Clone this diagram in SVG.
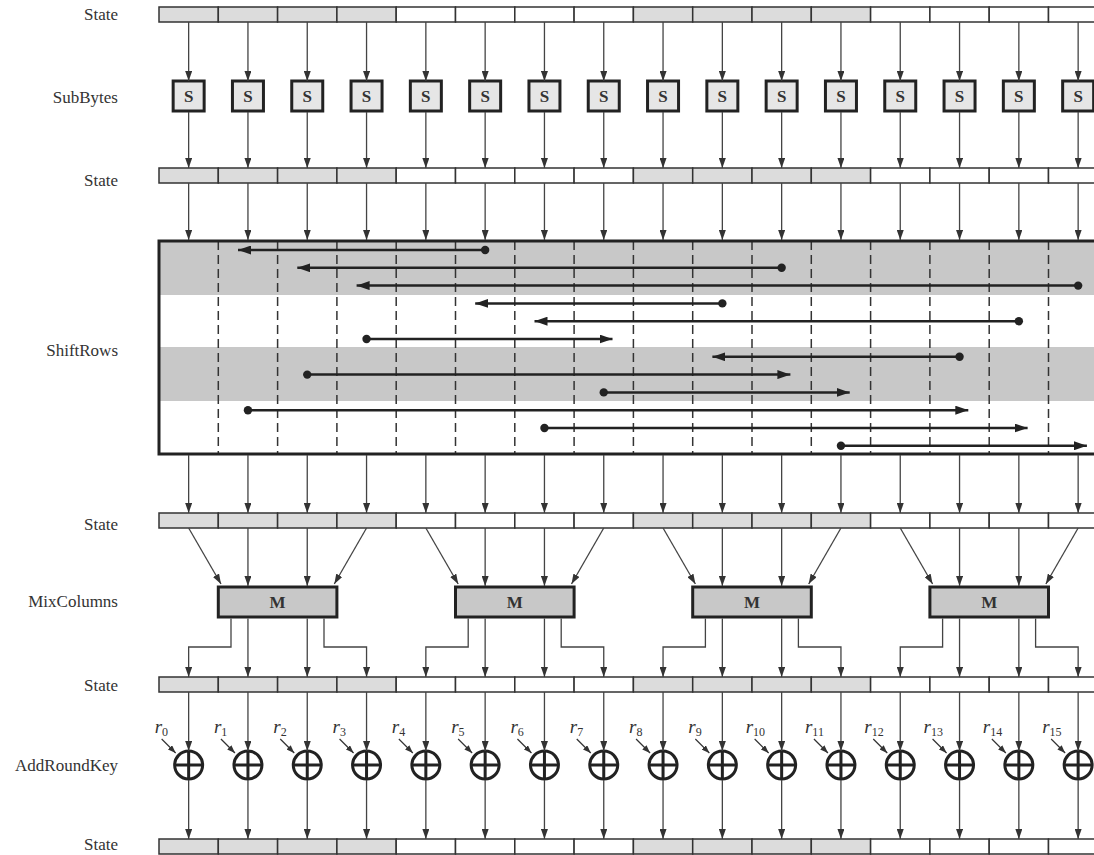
<svg xmlns="http://www.w3.org/2000/svg" xmlns:xlink="http://www.w3.org/1999/xlink" width="1094" height="855" viewBox="0 0 1094 855">
<style>
.lbl{font-family:"Liberation Serif",serif;font-size:17px;fill:#333;text-anchor:end}
.cellg{fill:#dcdcdc;stroke:#333;stroke-width:1.5}
.cellw{fill:#fff;stroke:#333;stroke-width:1.5}
.sbox{fill:#e6e6e6;stroke:#222;stroke-width:3}
.stxt{font-family:"Liberation Serif",serif;font-size:17px;font-weight:bold;fill:#333;text-anchor:middle}
.mbox{fill:#c8c8c8;stroke:#222;stroke-width:3}
.ar{stroke:#444;stroke-width:1.3;fill:none;marker-end:url(#ah)}
.el{stroke:#444;stroke-width:1.3;fill:none}
.sr{stroke:#222;stroke-width:2.5;fill:none;marker-end:url(#ahb)}
.dot{fill:#222}
.dash{stroke:#333;stroke-width:1.5;stroke-dasharray:9,5;fill:none}
.xor{fill:#fff;stroke:#222;stroke-width:3}
.pl{stroke:#222;stroke-width:3;fill:none}
.rt{font-family:"Liberation Serif",serif;font-style:italic;font-size:19px;fill:#333}
.rs{font-family:"Liberation Serif",serif;font-style:normal;font-size:12px;fill:#333}
.ra{stroke:#333;stroke-width:1.2;fill:none;marker-end:url(#ahs)}
</style>
<defs>
<marker id="ah" markerWidth="10" markerHeight="7" refX="10" refY="3.5" orient="auto" markerUnits="userSpaceOnUse"><path d="M0,0 L10,3.5 L0,7 z" fill="#333"/></marker>
<marker id="ahb" markerWidth="13" markerHeight="9" refX="13" refY="4.5" orient="auto" markerUnits="userSpaceOnUse"><path d="M0,0 L13,4.5 L0,9 z" fill="#222"/></marker>
<marker id="ahs" markerWidth="8" markerHeight="6" refX="8" refY="3" orient="auto" markerUnits="userSpaceOnUse"><path d="M0,0 L8,3 L0,6 z" fill="#333"/></marker>
<g id="bar">
<rect class="cellg" x="159" y="0" width="59.3" height="15"/><rect class="cellg" x="218.3" y="0" width="59.3" height="15"/><rect class="cellg" x="277.6" y="0" width="59.3" height="15"/><rect class="cellg" x="336.9" y="0" width="59.3" height="15"/>
<rect class="cellw" x="396.2" y="0" width="59.3" height="15"/><rect class="cellw" x="455.5" y="0" width="59.3" height="15"/><rect class="cellw" x="514.8" y="0" width="59.3" height="15"/><rect class="cellw" x="574.1" y="0" width="59.3" height="15"/>
<rect class="cellg" x="633.4" y="0" width="59.3" height="15"/><rect class="cellg" x="692.7" y="0" width="59.3" height="15"/><rect class="cellg" x="752" y="0" width="59.3" height="15"/><rect class="cellg" x="811.3" y="0" width="59.3" height="15"/>
<rect class="cellw" x="870.6" y="0" width="59.3" height="15"/><rect class="cellw" x="929.9" y="0" width="59.3" height="15"/><rect class="cellw" x="989.2" y="0" width="59.3" height="15"/><rect class="cellw" x="1048.5" y="0" width="59.3" height="15"/>
</g>
</defs>
<rect width="1094" height="855" fill="#fff"/>

<g id="labels">
<text class="lbl" x="118" y="19.5">State</text>
<text class="lbl" x="118" y="103">SubBytes</text>
<text class="lbl" x="118" y="185.5">State</text>
<text class="lbl" x="118" y="355.5">ShiftRows</text>
<text class="lbl" x="118" y="529.5">State</text>
<text class="lbl" x="118" y="607">MixColumns</text>
<text class="lbl" x="118" y="690.5">State</text>
<text class="lbl" x="118" y="770.5">AddRoundKey</text>
<text class="lbl" x="118" y="850">State</text>
</g>

<g id="state1"><use xlink:href="#bar" y="7"/></g>
<g id="state2"><use xlink:href="#bar" y="168"/></g>
<g id="state3"><use xlink:href="#bar" y="513"/></g>
<g id="state4"><use xlink:href="#bar" y="677"/></g>
<g id="state5"><use xlink:href="#bar" y="839"/></g>

<g id="subbytes">
<rect class="sbox" x="173.15" y="81" width="31" height="30"/><text class="stxt" x="188.65" y="102">S</text>
<rect class="sbox" x="232.45" y="81" width="31" height="30"/><text class="stxt" x="247.95" y="102">S</text>
<rect class="sbox" x="291.75" y="81" width="31" height="30"/><text class="stxt" x="307.25" y="102">S</text>
<rect class="sbox" x="351.05" y="81" width="31" height="30"/><text class="stxt" x="366.55" y="102">S</text>
<rect class="sbox" x="410.35" y="81" width="31" height="30"/><text class="stxt" x="425.85" y="102">S</text>
<rect class="sbox" x="469.65" y="81" width="31" height="30"/><text class="stxt" x="485.15" y="102">S</text>
<rect class="sbox" x="528.95" y="81" width="31" height="30"/><text class="stxt" x="544.45" y="102">S</text>
<rect class="sbox" x="588.25" y="81" width="31" height="30"/><text class="stxt" x="603.75" y="102">S</text>
<rect class="sbox" x="647.55" y="81" width="31" height="30"/><text class="stxt" x="663.05" y="102">S</text>
<rect class="sbox" x="706.85" y="81" width="31" height="30"/><text class="stxt" x="722.35" y="102">S</text>
<rect class="sbox" x="766.15" y="81" width="31" height="30"/><text class="stxt" x="781.65" y="102">S</text>
<rect class="sbox" x="825.45" y="81" width="31" height="30"/><text class="stxt" x="840.95" y="102">S</text>
<rect class="sbox" x="884.75" y="81" width="31" height="30"/><text class="stxt" x="900.25" y="102">S</text>
<rect class="sbox" x="944.05" y="81" width="31" height="30"/><text class="stxt" x="959.55" y="102">S</text>
<rect class="sbox" x="1003.35" y="81" width="31" height="30"/><text class="stxt" x="1018.85" y="102">S</text>
<rect class="sbox" x="1062.65" y="81" width="31" height="30"/><text class="stxt" x="1078.15" y="102">S</text>
</g>

<g id="shiftrows">
<rect x="159" y="241" width="960" height="54" fill="#c8c8c8"/>
<rect x="159" y="347" width="960" height="54" fill="#c8c8c8"/>
<path class="dash" d="M218.3,241V454M277.6,241V454M336.9,241V454M396.2,241V454M455.5,241V454M514.8,241V454M574.1,241V454M633.4,241V454M692.7,241V454M752,241V454M811.3,241V454M870.6,241V454M929.9,241V454M989.2,241V454M1048.5,241V454"/>
<rect x="159" y="241" width="960" height="213" fill="none" stroke="#222" stroke-width="3"/>
<line class="sr" x1="485.15" y1="250" x2="238" y2="250"/><circle class="dot" cx="485.15" cy="250" r="4.2"/>
<line class="sr" x1="781.65" y1="267.8" x2="297.3" y2="267.8"/><circle class="dot" cx="781.65" cy="267.8" r="4.2"/>
<line class="sr" x1="1078.15" y1="285.6" x2="356.6" y2="285.6"/><circle class="dot" cx="1078.15" cy="285.6" r="4.2"/>
<line class="sr" x1="722.35" y1="303.4" x2="475.2" y2="303.4"/><circle class="dot" cx="722.35" cy="303.4" r="4.2"/>
<line class="sr" x1="1018.85" y1="321.2" x2="534.5" y2="321.2"/><circle class="dot" cx="1018.85" cy="321.2" r="4.2"/>
<line class="sr" x1="366.55" y1="339" x2="612.5" y2="339"/><circle class="dot" cx="366.55" cy="339" r="4.2"/>
<line class="sr" x1="959.55" y1="356.8" x2="712.4" y2="356.8"/><circle class="dot" cx="959.55" cy="356.8" r="4.2"/>
<line class="sr" x1="307.25" y1="374.6" x2="790.4" y2="374.6"/><circle class="dot" cx="307.25" cy="374.6" r="4.2"/>
<line class="sr" x1="603.75" y1="392.4" x2="849.7" y2="392.4"/><circle class="dot" cx="603.75" cy="392.4" r="4.2"/>
<line class="sr" x1="247.95" y1="410.2" x2="968.3" y2="410.2"/><circle class="dot" cx="247.95" cy="410.2" r="4.2"/>
<line class="sr" x1="544.45" y1="428" x2="1027.6" y2="428"/><circle class="dot" cx="544.45" cy="428" r="4.2"/>
<line class="sr" x1="840.95" y1="445.8" x2="1086.9" y2="445.8"/><circle class="dot" cx="840.95" cy="445.8" r="4.2"/>
</g>

<g id="mixcolumns">
<rect class="mbox" x="218.3" y="587" width="118.6" height="30"/><text class="stxt" x="277.6" y="608">M</text>
<rect class="mbox" x="455.5" y="587" width="118.6" height="30"/><text class="stxt" x="514.8" y="608">M</text>
<rect class="mbox" x="692.7" y="587" width="118.6" height="30"/><text class="stxt" x="752" y="608">M</text>
<rect class="mbox" x="929.9" y="587" width="118.6" height="30"/><text class="stxt" x="989.2" y="608">M</text>
</g>

<g id="addroundkey">
<g id="x0"><circle class="xor" cx="188.65" cy="765" r="14"/><path class="pl" d="M174.65,765H202.65M188.65,751V779"/><text class="rt" x="154.65" y="733">r<tspan class="rs" dy="3">0</tspan></text><line class="ra" x1="161.65" y1="739" x2="175.65" y2="753"/></g>
<g id="x1"><circle class="xor" cx="247.95" cy="765" r="14"/><path class="pl" d="M233.95,765H261.95M247.95,751V779"/><text class="rt" x="213.95" y="733">r<tspan class="rs" dy="3">1</tspan></text><line class="ra" x1="220.95" y1="739" x2="234.95" y2="753"/></g>
<g id="x2"><circle class="xor" cx="307.25" cy="765" r="14"/><path class="pl" d="M293.25,765H321.25M307.25,751V779"/><text class="rt" x="273.25" y="733">r<tspan class="rs" dy="3">2</tspan></text><line class="ra" x1="280.25" y1="739" x2="294.25" y2="753"/></g>
<g id="x3"><circle class="xor" cx="366.55" cy="765" r="14"/><path class="pl" d="M352.55,765H380.55M366.55,751V779"/><text class="rt" x="332.55" y="733">r<tspan class="rs" dy="3">3</tspan></text><line class="ra" x1="339.55" y1="739" x2="353.55" y2="753"/></g>
<g id="x4"><circle class="xor" cx="425.85" cy="765" r="14"/><path class="pl" d="M411.85,765H439.85M425.85,751V779"/><text class="rt" x="391.85" y="733">r<tspan class="rs" dy="3">4</tspan></text><line class="ra" x1="398.85" y1="739" x2="412.85" y2="753"/></g>
<g id="x5"><circle class="xor" cx="485.15" cy="765" r="14"/><path class="pl" d="M471.15,765H499.15M485.15,751V779"/><text class="rt" x="451.15" y="733">r<tspan class="rs" dy="3">5</tspan></text><line class="ra" x1="458.15" y1="739" x2="472.15" y2="753"/></g>
<g id="x6"><circle class="xor" cx="544.45" cy="765" r="14"/><path class="pl" d="M530.45,765H558.45M544.45,751V779"/><text class="rt" x="510.45" y="733">r<tspan class="rs" dy="3">6</tspan></text><line class="ra" x1="517.45" y1="739" x2="531.45" y2="753"/></g>
<g id="x7"><circle class="xor" cx="603.75" cy="765" r="14"/><path class="pl" d="M589.75,765H617.75M603.75,751V779"/><text class="rt" x="569.75" y="733">r<tspan class="rs" dy="3">7</tspan></text><line class="ra" x1="576.75" y1="739" x2="590.75" y2="753"/></g>
<g id="x8"><circle class="xor" cx="663.05" cy="765" r="14"/><path class="pl" d="M649.05,765H677.05M663.05,751V779"/><text class="rt" x="629.05" y="733">r<tspan class="rs" dy="3">8</tspan></text><line class="ra" x1="636.05" y1="739" x2="650.05" y2="753"/></g>
<g id="x9"><circle class="xor" cx="722.35" cy="765" r="14"/><path class="pl" d="M708.35,765H736.35M722.35,751V779"/><text class="rt" x="688.35" y="733">r<tspan class="rs" dy="3">9</tspan></text><line class="ra" x1="695.35" y1="739" x2="709.35" y2="753"/></g>
<g id="x10"><circle class="xor" cx="781.65" cy="765" r="14"/><path class="pl" d="M767.65,765H795.65M781.65,751V779"/><text class="rt" x="745.65" y="733">r<tspan class="rs" dy="3">10</tspan></text><line class="ra" x1="754.65" y1="739" x2="768.65" y2="753"/></g>
<g id="x11"><circle class="xor" cx="840.95" cy="765" r="14"/><path class="pl" d="M826.95,765H854.95M840.95,751V779"/><text class="rt" x="804.95" y="733">r<tspan class="rs" dy="3">11</tspan></text><line class="ra" x1="813.95" y1="739" x2="827.95" y2="753"/></g>
<g id="x12"><circle class="xor" cx="900.25" cy="765" r="14"/><path class="pl" d="M886.25,765H914.25M900.25,751V779"/><text class="rt" x="864.25" y="733">r<tspan class="rs" dy="3">12</tspan></text><line class="ra" x1="873.25" y1="739" x2="887.25" y2="753"/></g>
<g id="x13"><circle class="xor" cx="959.55" cy="765" r="14"/><path class="pl" d="M945.55,765H973.55M959.55,751V779"/><text class="rt" x="923.55" y="733">r<tspan class="rs" dy="3">13</tspan></text><line class="ra" x1="932.55" y1="739" x2="946.55" y2="753"/></g>
<g id="x14"><circle class="xor" cx="1018.85" cy="765" r="14"/><path class="pl" d="M1004.85,765H1032.85M1018.85,751V779"/><text class="rt" x="982.85" y="733">r<tspan class="rs" dy="3">14</tspan></text><line class="ra" x1="991.85" y1="739" x2="1005.85" y2="753"/></g>
<g id="x15"><circle class="xor" cx="1078.15" cy="765" r="14"/><path class="pl" d="M1064.15,765H1092.15M1078.15,751V779"/><text class="rt" x="1042.15" y="733">r<tspan class="rs" dy="3">15</tspan></text><line class="ra" x1="1051.15" y1="739" x2="1065.15" y2="753"/></g>
</g>

<g id="connectors">
<line class="ar" x1="188.65" y1="22" x2="188.65" y2="81"/><line class="ar" x1="247.95" y1="22" x2="247.95" y2="81"/><line class="ar" x1="307.25" y1="22" x2="307.25" y2="81"/><line class="ar" x1="366.55" y1="22" x2="366.55" y2="81"/><line class="ar" x1="425.85" y1="22" x2="425.85" y2="81"/><line class="ar" x1="485.15" y1="22" x2="485.15" y2="81"/><line class="ar" x1="544.45" y1="22" x2="544.45" y2="81"/><line class="ar" x1="603.75" y1="22" x2="603.75" y2="81"/><line class="ar" x1="663.05" y1="22" x2="663.05" y2="81"/><line class="ar" x1="722.35" y1="22" x2="722.35" y2="81"/><line class="ar" x1="781.65" y1="22" x2="781.65" y2="81"/><line class="ar" x1="840.95" y1="22" x2="840.95" y2="81"/><line class="ar" x1="900.25" y1="22" x2="900.25" y2="81"/><line class="ar" x1="959.55" y1="22" x2="959.55" y2="81"/><line class="ar" x1="1018.85" y1="22" x2="1018.85" y2="81"/><line class="ar" x1="1078.15" y1="22" x2="1078.15" y2="81"/>
<line class="ar" x1="188.65" y1="112" x2="188.65" y2="168"/><line class="ar" x1="247.95" y1="112" x2="247.95" y2="168"/><line class="ar" x1="307.25" y1="112" x2="307.25" y2="168"/><line class="ar" x1="366.55" y1="112" x2="366.55" y2="168"/><line class="ar" x1="425.85" y1="112" x2="425.85" y2="168"/><line class="ar" x1="485.15" y1="112" x2="485.15" y2="168"/><line class="ar" x1="544.45" y1="112" x2="544.45" y2="168"/><line class="ar" x1="603.75" y1="112" x2="603.75" y2="168"/><line class="ar" x1="663.05" y1="112" x2="663.05" y2="168"/><line class="ar" x1="722.35" y1="112" x2="722.35" y2="168"/><line class="ar" x1="781.65" y1="112" x2="781.65" y2="168"/><line class="ar" x1="840.95" y1="112" x2="840.95" y2="168"/><line class="ar" x1="900.25" y1="112" x2="900.25" y2="168"/><line class="ar" x1="959.55" y1="112" x2="959.55" y2="168"/><line class="ar" x1="1018.85" y1="112" x2="1018.85" y2="168"/><line class="ar" x1="1078.15" y1="112" x2="1078.15" y2="168"/>
<line class="ar" x1="188.65" y1="183" x2="188.65" y2="240"/><line class="ar" x1="247.95" y1="183" x2="247.95" y2="240"/><line class="ar" x1="307.25" y1="183" x2="307.25" y2="240"/><line class="ar" x1="366.55" y1="183" x2="366.55" y2="240"/><line class="ar" x1="425.85" y1="183" x2="425.85" y2="240"/><line class="ar" x1="485.15" y1="183" x2="485.15" y2="240"/><line class="ar" x1="544.45" y1="183" x2="544.45" y2="240"/><line class="ar" x1="603.75" y1="183" x2="603.75" y2="240"/><line class="ar" x1="663.05" y1="183" x2="663.05" y2="240"/><line class="ar" x1="722.35" y1="183" x2="722.35" y2="240"/><line class="ar" x1="781.65" y1="183" x2="781.65" y2="240"/><line class="ar" x1="840.95" y1="183" x2="840.95" y2="240"/><line class="ar" x1="900.25" y1="183" x2="900.25" y2="240"/><line class="ar" x1="959.55" y1="183" x2="959.55" y2="240"/><line class="ar" x1="1018.85" y1="183" x2="1018.85" y2="240"/><line class="ar" x1="1078.15" y1="183" x2="1078.15" y2="240"/>
<line class="ar" x1="188.65" y1="455" x2="188.65" y2="513"/><line class="ar" x1="247.95" y1="455" x2="247.95" y2="513"/><line class="ar" x1="307.25" y1="455" x2="307.25" y2="513"/><line class="ar" x1="366.55" y1="455" x2="366.55" y2="513"/><line class="ar" x1="425.85" y1="455" x2="425.85" y2="513"/><line class="ar" x1="485.15" y1="455" x2="485.15" y2="513"/><line class="ar" x1="544.45" y1="455" x2="544.45" y2="513"/><line class="ar" x1="603.75" y1="455" x2="603.75" y2="513"/><line class="ar" x1="663.05" y1="455" x2="663.05" y2="513"/><line class="ar" x1="722.35" y1="455" x2="722.35" y2="513"/><line class="ar" x1="781.65" y1="455" x2="781.65" y2="513"/><line class="ar" x1="840.95" y1="455" x2="840.95" y2="513"/><line class="ar" x1="900.25" y1="455" x2="900.25" y2="513"/><line class="ar" x1="959.55" y1="455" x2="959.55" y2="513"/><line class="ar" x1="1018.85" y1="455" x2="1018.85" y2="513"/><line class="ar" x1="1078.15" y1="455" x2="1078.15" y2="513"/>
<line class="ar" x1="188.65" y1="528" x2="221" y2="584"/><line class="ar" x1="247.95" y1="528" x2="247.95" y2="586"/><line class="ar" x1="307.25" y1="528" x2="307.25" y2="586"/><line class="ar" x1="366.55" y1="528" x2="334.3" y2="584"/>
<line class="ar" x1="425.85" y1="528" x2="458.2" y2="584"/><line class="ar" x1="485.15" y1="528" x2="485.15" y2="586"/><line class="ar" x1="544.45" y1="528" x2="544.45" y2="586"/><line class="ar" x1="603.75" y1="528" x2="571.5" y2="584"/>
<line class="ar" x1="663.05" y1="528" x2="695.4" y2="584"/><line class="ar" x1="722.35" y1="528" x2="722.35" y2="586"/><line class="ar" x1="781.65" y1="528" x2="781.65" y2="586"/><line class="ar" x1="840.95" y1="528" x2="808.7" y2="584"/>
<line class="ar" x1="900.25" y1="528" x2="932.6" y2="584"/><line class="ar" x1="959.55" y1="528" x2="959.55" y2="586"/><line class="ar" x1="1018.85" y1="528" x2="1018.85" y2="586"/><line class="ar" x1="1078.15" y1="528" x2="1045.9" y2="584"/>
<polyline class="ar" points="231,618.5 231,647 188.65,647 188.65,677"/><line class="ar" x1="247.95" y1="618.5" x2="247.95" y2="677"/><line class="ar" x1="307.25" y1="618.5" x2="307.25" y2="677"/><polyline class="ar" points="324,618.5 324,647 366.55,647 366.55,677"/>
<polyline class="ar" points="468.2,618.5 468.2,647 425.85,647 425.85,677"/><line class="ar" x1="485.15" y1="618.5" x2="485.15" y2="677"/><line class="ar" x1="544.45" y1="618.5" x2="544.45" y2="677"/><polyline class="ar" points="561.2,618.5 561.2,647 603.75,647 603.75,677"/>
<polyline class="ar" points="705.4,618.5 705.4,647 663.05,647 663.05,677"/><line class="ar" x1="722.35" y1="618.5" x2="722.35" y2="677"/><line class="ar" x1="781.65" y1="618.5" x2="781.65" y2="677"/><polyline class="ar" points="798.4,618.5 798.4,647 840.95,647 840.95,677"/>
<polyline class="ar" points="942.6,618.5 942.6,647 900.25,647 900.25,677"/><line class="ar" x1="959.55" y1="618.5" x2="959.55" y2="677"/><line class="ar" x1="1018.85" y1="618.5" x2="1018.85" y2="677"/><polyline class="ar" points="1035.6,618.5 1035.6,647 1078.15,647 1078.15,677"/>
<line class="ar" x1="188.65" y1="692" x2="188.65" y2="751"/><line class="ar" x1="247.95" y1="692" x2="247.95" y2="751"/><line class="ar" x1="307.25" y1="692" x2="307.25" y2="751"/><line class="ar" x1="366.55" y1="692" x2="366.55" y2="751"/><line class="ar" x1="425.85" y1="692" x2="425.85" y2="751"/><line class="ar" x1="485.15" y1="692" x2="485.15" y2="751"/><line class="ar" x1="544.45" y1="692" x2="544.45" y2="751"/><line class="ar" x1="603.75" y1="692" x2="603.75" y2="751"/><line class="ar" x1="663.05" y1="692" x2="663.05" y2="751"/><line class="ar" x1="722.35" y1="692" x2="722.35" y2="751"/><line class="ar" x1="781.65" y1="692" x2="781.65" y2="751"/><line class="ar" x1="840.95" y1="692" x2="840.95" y2="751"/><line class="ar" x1="900.25" y1="692" x2="900.25" y2="751"/><line class="ar" x1="959.55" y1="692" x2="959.55" y2="751"/><line class="ar" x1="1018.85" y1="692" x2="1018.85" y2="751"/><line class="ar" x1="1078.15" y1="692" x2="1078.15" y2="751"/>
<line class="ar" x1="188.65" y1="780" x2="188.65" y2="839"/><line class="ar" x1="247.95" y1="780" x2="247.95" y2="839"/><line class="ar" x1="307.25" y1="780" x2="307.25" y2="839"/><line class="ar" x1="366.55" y1="780" x2="366.55" y2="839"/><line class="ar" x1="425.85" y1="780" x2="425.85" y2="839"/><line class="ar" x1="485.15" y1="780" x2="485.15" y2="839"/><line class="ar" x1="544.45" y1="780" x2="544.45" y2="839"/><line class="ar" x1="603.75" y1="780" x2="603.75" y2="839"/><line class="ar" x1="663.05" y1="780" x2="663.05" y2="839"/><line class="ar" x1="722.35" y1="780" x2="722.35" y2="839"/><line class="ar" x1="781.65" y1="780" x2="781.65" y2="839"/><line class="ar" x1="840.95" y1="780" x2="840.95" y2="839"/><line class="ar" x1="900.25" y1="780" x2="900.25" y2="839"/><line class="ar" x1="959.55" y1="780" x2="959.55" y2="839"/><line class="ar" x1="1018.85" y1="780" x2="1018.85" y2="839"/><line class="ar" x1="1078.15" y1="780" x2="1078.15" y2="839"/>
</g>
</svg>
